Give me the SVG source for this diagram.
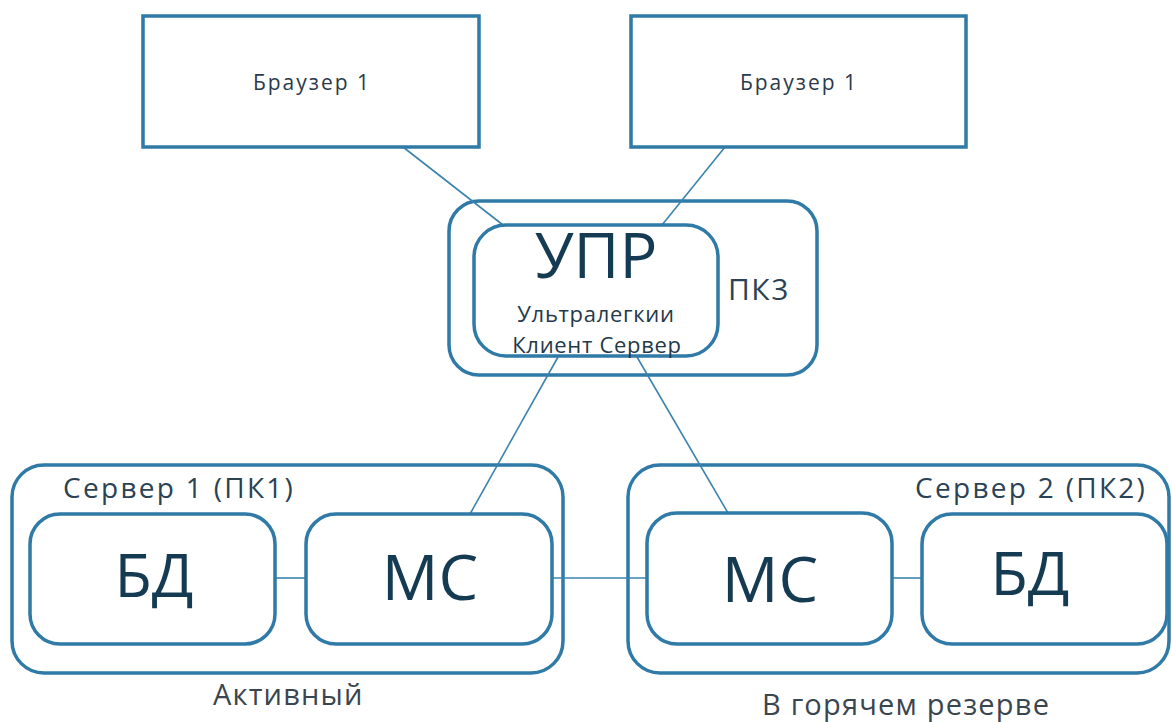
<svg xmlns="http://www.w3.org/2000/svg" width="1172" height="722" viewBox="0 0 1172 722">
  <style>
    .box { fill: #ffffff; stroke: #2f7aa6; stroke-width: 3.5; }
    .link { fill: none; stroke: #3b84ae; stroke-width: 1.6; }
    text { font-family: "Open Sans", "Noto Sans", "DejaVu Sans", sans-serif; }
    .big { fill: #153b52; font-size: 63px; text-anchor: middle; }
    .mid { fill: #24394a; font-size: 22px; text-anchor: middle; letter-spacing: 0.7px; }
    .lbl { fill: #2a4254; font-size: 28px; letter-spacing: 2.3px; }
    .cap { fill: #3a464f; font-size: 29px; letter-spacing: 1.2px; }
    .brw { fill: #2a3a4a; font-size: 21px; text-anchor: middle; letter-spacing: 2px; }
  </style>
  <rect width="1172" height="722" fill="#ffffff"/>

  <!-- outer containers -->
  <g id="pk3">
    <rect class="box" x="449" y="201" width="368" height="174" rx="30"/>
    <text class="lbl" x="728" y="300" style="font-size:30px;letter-spacing:1.5px">ПК3</text>
  </g>
  <g id="server1">
    <rect class="box" x="12" y="465" width="551" height="208" rx="32"/>
    <text class="lbl" x="63" y="498">Сервер 1 (ПК1)</text>
    <text class="cap" x="213" y="705">Активный</text>
  </g>
  <g id="server2">
    <rect class="box" x="628" y="465" width="541" height="208" rx="32"/>
    <text class="lbl" x="915" y="498">Сервер 2 (ПК2)</text>
    <text class="cap" x="762" y="715">В горячем резерве</text>
  </g>

  <!-- connectors -->
  <g id="connectors">
    <line class="link" x1="403" y1="147" x2="503" y2="225"/>
    <line class="link" x1="725" y1="147" x2="662" y2="225"/>
    <line class="link" x1="558" y1="357" x2="470" y2="514"/>
    <line class="link" x1="637" y1="357" x2="728" y2="513"/>
    <line class="link" x1="275" y1="578" x2="306" y2="578"/>
    <line class="link" x1="552" y1="578" x2="647" y2="578"/>
    <line class="link" x1="892" y1="578" x2="922" y2="578"/>
  </g>

  <!-- nodes -->
  <g id="browser1">
    <rect class="box" x="143" y="16" width="336" height="131"/>
    <text class="brw" x="312" y="90">Браузер 1</text>
  </g>
  <g id="browser2">
    <rect class="box" x="631" y="16" width="335" height="131"/>
    <text class="brw" x="799" y="90">Браузер 1</text>
  </g>
  <g id="upr">
    <rect class="box" x="474" y="225" width="244" height="131" rx="32"/>
    <text class="big" x="596" y="278">УПР</text>
    <text class="mid" x="596" y="322">Ультралегкии</text>
    <text class="mid" x="597" y="353">Клиент Сервер</text>
  </g>
  <g id="bd1">
    <rect class="box" x="30" y="514" width="245" height="130" rx="30"/>
    <text class="big" x="154" y="597" style="font-size:61px">БД</text>
  </g>
  <g id="mc1">
    <rect class="box" x="306" y="514" width="246" height="130" rx="30"/>
    <text class="big" x="430" y="600">МС</text>
  </g>
  <g id="mc2">
    <rect class="box" x="647" y="513" width="245" height="131" rx="30"/>
    <text class="big" x="770" y="602">МС</text>
  </g>
  <g id="bd2">
    <rect class="box" x="922" y="514" width="245" height="130" rx="30"/>
    <text class="big" x="1030" y="595" style="font-size:61px">БД</text>
  </g>
</svg>
